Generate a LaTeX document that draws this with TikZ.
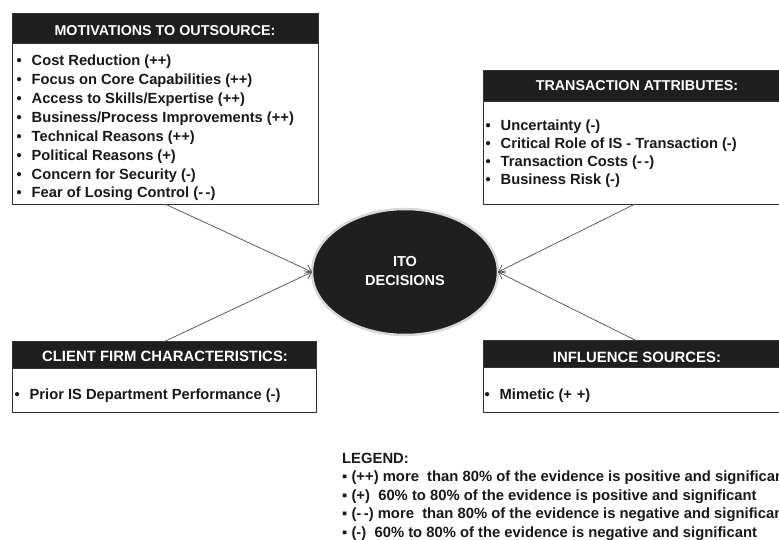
\documentclass[tikz,border=0pt]{standalone}
\usepackage{fontspec}
\setmainfont{Liberation Sans}
\usetikzlibrary{arrows.meta,shapes.geometric}
\newcommand\bodyfnt{\fontsize{14.7}{19}\selectfont\bfseries}
\newcommand\hdrfnt{\fontsize{14.3}{17}\selectfont\bfseries}
\newcommand\hdrbigfnt{\fontsize{14.9}{17}\selectfont\bfseries}
\newcommand\legfnt{\fontsize{14.8}{18}\selectfont\bfseries}
\newcommand\bul{\makebox[15pt][l]{•}}
\tikzset{
  boxframe/.style={draw=black!80, line width=0.8pt, fill=white, inner sep=0pt, outer sep=0pt, anchor=north west},
  hdrbar/.style={fill=black!88, draw=black!80, line width=0.8pt, inner sep=0pt, outer sep=0pt, anchor=north west},
  hdrtext/.style={text=white, font=\hdrfnt, inner sep=0pt, anchor=base},
  itemtext/.style={font=\bodyfnt, inner sep=0pt, anchor=base west, text=black!90},
  legtext/.style={font=\legfnt, inner sep=0pt, anchor=base west, text=black!90},
  link/.style={draw=black!70, line width=0.7pt, -{Straight Barb[length=6pt,width=9pt]}},
  itonode/.style={ellipse, fill=black!88, draw=black!15, line width=2.5pt, minimum width=186pt, minimum height=126pt, inner sep=0pt, outer sep=0pt},
}
\begin{document}
\begin{tikzpicture}[x=1pt,y=-1pt]
\useasboundingbox (0,0) rectangle (779,540);
\clip (0,0) rectangle (779,540);

% Motivations box
\node[boxframe, minimum width=306pt, minimum height=191pt] (tl) at (12,13) {};
\node[hdrbar, minimum width=306pt, minimum height=30.5pt] (tlh) at (12,13) {};
\node[hdrtext] (tlt) at (165,35.7) {MOTIVATIONS TO OUTSOURCE:};
\foreach \t [count=\i] in {{Cost Reduction (++)},{Focus on Core Capabilities (++)},{Access to Skills/Expertise (++)},{Business/Process Improvements (++)},{Technical Reasons (++)},{Political Reasons (+)},{Concern for Security (-)},{Fear of Losing Control (-\,-)}}
  \node[itemtext] (tl\i) at (16.5,{65.7+18.9*(\i-1)}) {\bul\t};

% Transaction attributes box
\node[boxframe, minimum width=304pt, minimum height=134pt] (tr) at (483,70) {};
\node[hdrbar, minimum width=304pt, minimum height=31.7pt] (trh) at (483,70) {};
\node[hdrtext] (trt) at (637,91) {TRANSACTION ATTRIBUTES:};
\foreach \t [count=\i] in {{Uncertainty (-)},{Critical Role of IS - Transaction (-)},{Transaction Costs (-\,-)},{Business Risk (-)}}
  \node[itemtext] (tr\i) at (485.5,{130.7+17.8*(\i-1)}) {\bul\t};

% Client firm box
\node[boxframe, minimum width=304pt, minimum height=70.5pt] (bl) at (12,341.7) {};
\node[hdrbar, minimum width=304pt, minimum height=26.6pt] (blh) at (12,341.7) {};
\node[hdrtext, font=\hdrbigfnt] (blt) at (165,361.7) {CLIENT FIRM CHARACTERISTICS:};
\node[itemtext] (bl1) at (14.5,399.3) {\bul Prior IS Department Performance (-)};

% Influence sources box
\node[boxframe, minimum width=304pt, minimum height=72pt] (br) at (483,340) {};
\node[hdrbar, minimum width=304pt, minimum height=27.3pt] (brh) at (483,340) {};
\node[hdrtext, font=\hdrbigfnt] (brt) at (637,362.5) {INFLUENCE SOURCES:};
\node[itemtext] (br1) at (484.5,399.3) {\bul Mimetic (+\,\,+)};

% Central ellipse
\node[itonode] (ito) at (405,272) {};
\node[hdrtext, font=\fontsize{14.5}{18}\selectfont\bfseries] (ito1) at (405,266.7) {ITO};
\node[hdrtext, font=\fontsize{14.5}{18}\selectfont\bfseries] (ito2) at (405,285) {DECISIONS};

% Connectors
\draw[link] (tl.south) -- (ito.west);
\draw[link] (bl.north) -- (ito.west);
\draw[link] (tr.south) -- (ito.east);
\draw[link] (br.north) -- (ito.east);

% Legend
\node[legtext] (leg) at (342,463) {LEGEND:};
\node[legtext] (leg1) at (342,481.5) {▪ (++) more\ \ than 80\% of the evidence is positive and significant};
\node[legtext] (leg2) at (342,500) {▪ (+)\ \ 60\% to 80\% of the evidence is positive and significant};
\node[legtext] (leg3) at (342,518.5) {▪ (-\,-) more\ \ than 80\% of the evidence is negative and significant};
\node[legtext] (leg4) at (342,537) {▪ (-)\ \ 60\% to 80\% of the evidence is negative and significant};
\end{tikzpicture}
\end{document}
